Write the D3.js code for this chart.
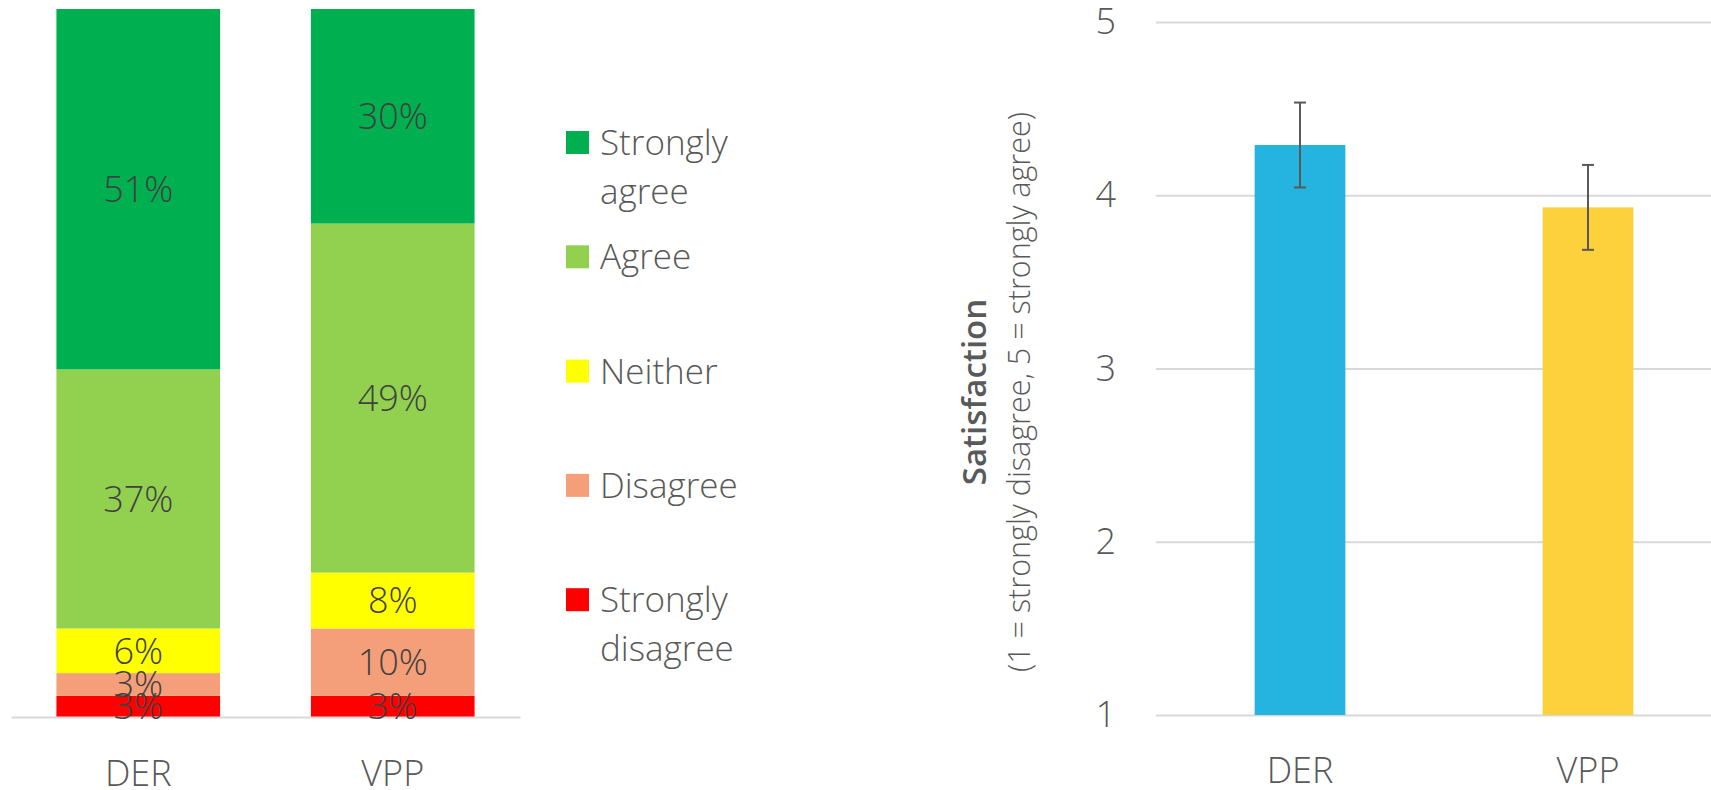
<!DOCTYPE html>
<html>
<head>
<meta charset="utf-8">
<script src="https://cdn.jsdelivr.net/npm/d3@7"></script>
<style>
  body { margin: 0; background: #fff; }
  svg { display: block; font-family: "Open Sans", "Noto Sans", sans-serif; }
</style>
</head>
<body>
<div id="chart"></div>
<script>
// groups on both charts
var groups = ["DER", "VPP"]

// agreement levels, bottom of the stack first
var levels = ["Strongly disagree", "Disagree", "Neither", "Agree", "Strongly agree"]
var levelColors = ["#FF0000", "#F59F7A", "#FFFF00", "#92D050", "#00B050"]

// share of answers in percent, same order as levels
var derShares = [3.0, 3.2, 6.3, 36.6, 50.9]
var vppShares = [3.0, 9.5, 7.9, 49.3, 30.3]

// mean satisfaction and half width of the error bar
var satMeans = [4.29, 3.93]
var satErrors = [0.245, 0.245]
var satColors = ["#25B3E0", "#FDD13B"]
var satTicks = [1, 2, 3, 4, 5]

// legend, top item first
var legendItems = [["Strongly", "agree"], ["Agree"], ["Neither"], ["Disagree"], ["Strongly", "disagree"]]
var legendColors = ["#00B050", "#92D050", "#FFFF00", "#F59F7A", "#FF0000"]

var labelColor = "#404040"
var axisColor = "#595959"
var gridColor = "#D9D9D9"
var fontStack = '"Open Sans", "Noto Sans", sans-serif'

var svg = d3.select("#chart").append("svg")
	.attr("width", 1711)
	.attr("height", 790)

//---------- left: stacked shares ----------
var xL = d3.scaleBand().domain(groups).range([11, 520]).padding(0)
var yL = d3.scaleLinear().domain([0, 100]).range([717, 9])
var barWL = xL.bandwidth() * 0.643

var shareRows = groups.map(function(g, gi) {
	var vals = gi == 0 ? derShares : vppShares
	var row = { group: g }
	levels.forEach(function(l, li) { row[l] = vals[li] })
	return row
})
var stacked = d3.stack().keys(levels)(shareRows)

var left = svg.append("g")

var layer = left.selectAll(".layer")
	.data(stacked)
	.enter()
	.append("g")
	.attr("class", "layer")
	.attr("fill", function(d, i) { return levelColors[i] })

layer.selectAll("rect")
	.data(function(d) { return d })
	.enter()
	.append("rect")
	.attr("x", function(d) { return xL(d.data.group) + (xL.bandwidth() - barWL) / 2 })
	.attr("width", barWL)
	.attr("y", function(d) { return yL(d[1]) })
	.attr("height", function(d) { return yL(d[0]) - yL(d[1]) })

// bottom axis line and group names
var axL = left.append("g")
	.attr("transform", "translate(0," + yL(0) + ")")
	.call(d3.axisBottom(xL).tickSize(0).tickSizeOuter(0).tickPadding(43))
	.attr("font-family", fontStack)
axL.select(".domain").attr("stroke", gridColor).attr("stroke-width", 2)
axL.selectAll("text")
	.attr("fill", axisColor)
	.style("font-size", "36px")
	.style("font-weight", 300)

// percent labels in the middle of each segment
stacked.forEach(function(series) {
	left.selectAll(null)
		.data(series)
		.enter()
		.append("text")
		.attr("x", function(d) { return xL(d.data.group) + xL.bandwidth() / 2 })
		.attr("y", function(d) { return (yL(d[0]) + yL(d[1])) / 2 })
		.attr("dy", "0.36em")
		.attr("text-anchor", "middle")
		.attr("fill", labelColor)
		.style("font-size", "36px")
		.style("font-weight", 300)
		.text(function(d) { return Math.round(d[1] - d[0]) + "%" })
})

//legend
var legend = svg.append("g")
var item = legend.selectAll(".item")
	.data(legendItems)
	.enter()
	.append("g")
	.attr("class", "item")
	.attr("transform", function(d, i) { return "translate(566," + (131 + i * 114.3) + ")" })

item.append("rect")
	.attr("width", 23)
	.attr("height", 23)
	.attr("fill", function(d, i) { return legendColors[i] })

item.append("text")
	.attr("x", 34)
	.attr("y", 24)
	.attr("fill", axisColor)
	.style("font-size", "35px")
	.style("font-weight", 300)
	.selectAll("tspan")
	.data(function(d) { return d })
	.enter()
	.append("tspan")
	.attr("x", 34)
	.attr("dy", function(d, i) { return i == 0 ? 0 : 49 })
	.text(function(d) { return d })

//---------- right: satisfaction means ----------
var xR = d3.scaleBand().domain(groups).range([1156, 1732]).padding(0)
var yR = d3.scaleLinear().domain([1, 5]).range([715, 22])
var barWR = xR.bandwidth() * 0.315

var right = svg.append("g")

var grid = right.append("g")
	.attr("transform", "translate(1156,0)")
	.call(d3.axisLeft(yR).tickValues(satTicks).tickSize(-(1711 - 1156)).tickPadding(40).tickFormat(d3.format("d")))
	.attr("font-family", fontStack)
grid.select(".domain").remove()
grid.selectAll("line").attr("stroke", gridColor).attr("stroke-width", 2)
grid.selectAll("text")
	.attr("fill", axisColor)
	.style("font-size", "36px")
	.style("font-weight", 300)

right.selectAll(".satbar")
	.data(satMeans)
	.enter()
	.append("rect")
	.attr("class", "satbar")
	.attr("x", function(d, i) { return xR(groups[i]) + (xR.bandwidth() - barWR) / 2 })
	.attr("width", barWR)
	.attr("y", function(d) { return yR(d) })
	.attr("height", function(d) { return yR(1) - yR(d) })
	.attr("fill", function(d, i) { return satColors[i] })

// error bars
var err = right.selectAll(".err")
	.data(satMeans)
	.enter()
	.append("g")
	.attr("class", "err")
	.attr("stroke", axisColor)
	.attr("stroke-width", 2)
err.append("line")
	.attr("x1", function(d, i) { return xR(groups[i]) + xR.bandwidth() / 2 })
	.attr("x2", function(d, i) { return xR(groups[i]) + xR.bandwidth() / 2 })
	.attr("y1", function(d, i) { return yR(d + satErrors[i]) })
	.attr("y2", function(d, i) { return yR(d - satErrors[i]) })
err.selectAll(".cap")
	.data(function(d, i) { return [[i, d + satErrors[i]], [i, d - satErrors[i]]] })
	.enter()
	.append("line")
	.attr("class", "cap")
	.attr("x1", function(d) { return xR(groups[d[0]]) + xR.bandwidth() / 2 - 6 })
	.attr("x2", function(d) { return xR(groups[d[0]]) + xR.bandwidth() / 2 + 6 })
	.attr("y1", function(d) { return yR(d[1]) })
	.attr("y2", function(d) { return yR(d[1]) })

var axR = right.append("g")
	.attr("transform", "translate(0," + yR(1) + ")")
	.call(d3.axisBottom(xR).tickSize(0).tickPadding(42))
	.attr("font-family", fontStack)
axR.select(".domain").remove()
axR.selectAll("text")
	.attr("fill", axisColor)
	.style("font-size", "36px")
	.style("font-weight", 300)

// axis title, two lines
var title = right.append("g")
	.attr("transform", "translate(0,392) rotate(-90)")
title.append("text")
	.attr("x", 0)
	.attr("y", 986)
	.attr("text-anchor", "middle")
	.attr("fill", axisColor)
	.style("font-size", "33px")
	.style("font-weight", 600)
	.text("Satisfaction")
title.append("text")
	.attr("x", 0)
	.attr("y", 1030)
	.attr("text-anchor", "middle")
	.attr("fill", axisColor)
	.style("font-size", "30.5px")
	.style("font-weight", 300)
	.text("(1 = strongly disagree, 5 = strongly agree)")
</script>
</body>
</html>
